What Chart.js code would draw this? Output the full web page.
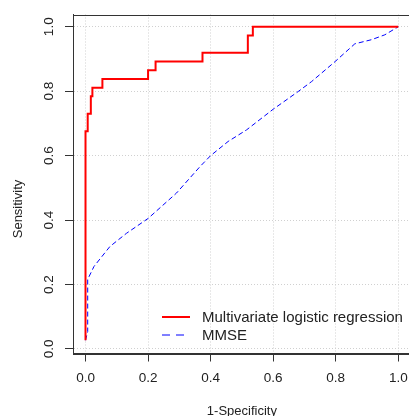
<!DOCTYPE html>
<html>
<head>
<meta charset="utf-8">
<script src="https://cdn.jsdelivr.net/npm/chart.js@4"></script>
<style>
  html, body { margin: 0; padding: 0; background: #fff; overflow: hidden; }
  #roc { display: block; }
</style>
</head>
<body>
<canvas id="roc" width="420" height="430"></canvas>
<script>
// ROC coordinates (1-specificity, sensitivity)
const mlrFpr = [0, 0, 0.007, 0.017, 0.022, 0.054, 0.200, 0.224, 0.374, 0.519, 0.535, 1.0];
const mlrTpr = [0.027, 0.676, 0.730, 0.784, 0.811, 0.838, 0.865, 0.892, 0.919, 0.973, 1.0, 1.0];

const mmseFpr = [0, 0.007, 0.007, 0.027, 0.078, 0.131, 0.200, 0.291, 0.366, 0.400, 0.456, 0.515, 0.600, 0.680, 0.723, 0.798, 0.861, 0.915, 0.957, 1.0];
const mmseTpr = [0.027, 0.054, 0.216, 0.256, 0.318, 0.359, 0.405, 0.484, 0.566, 0.600, 0.644, 0.680, 0.744, 0.799, 0.830, 0.892, 0.947, 0.960, 0.975, 1.0];

const seriesNames = ["Multivariate logistic regression", "MMSE"];

const xTicks = [0, 0.2, 0.4, 0.6, 0.8, 1.0];
const xTickLabels = ["0.0", "0.2", "0.4", "0.6", "0.8", "1.0"];
const yTicks = [0, 0.2, 0.4, 0.6, 0.8, 1.0];
const yTickLabels = ["0.0", "0.2", "0.4", "0.6", "0.8", "1.0"];

const FONT = '"Liberation Sans", Arial, sans-serif';
const INK = "#222";

function toPoints(xs, ys) {
    return xs.map((x, i) => ({ x: x, y: ys[i] }));
}

// box, rotated y labels, y title and the legend, drawn the way base R does
const rStyle = {
    id: "rStyle",
    afterDraw(chart) {
        const ctx = chart.ctx;
        const a = chart.chartArea;
        const y = chart.scales.y;

        ctx.save();
        ctx.strokeStyle = "#333";
        ctx.lineWidth = 1;
        ctx.strokeRect(Math.round(a.left) + 0.5, Math.round(a.top) + 0.5,
            Math.round(a.right - a.left), Math.round(a.bottom - a.top));

        ctx.fillStyle = INK;
        ctx.font = "13.5px " + FONT;
        ctx.textAlign = "center";
        ctx.textBaseline = "middle";
        yTicks.forEach((v, i) => {
            ctx.save();
            ctx.translate(49, y.getPixelForValue(v));
            ctx.rotate(-Math.PI / 2);
            ctx.fillText(yTickLabels[i], 0, 0);
            ctx.restore();
        });

        ctx.font = "13px " + FONT;
        ctx.save();
        ctx.translate(18, 209);
        ctx.rotate(-Math.PI / 2);
        ctx.fillText("Sensitivity", 0, 0);
        ctx.restore();

        // legend
        const lx = 162, tx = 202, rows = [317, 335];
        chart.data.datasets.forEach((ds, i) => {
            ctx.save();
            ctx.strokeStyle = ds.borderColor;
            ctx.lineWidth = ds.borderWidth;
            ctx.setLineDash(i === 0 ? [] : [8, 6]);
            ctx.beginPath();
            ctx.moveTo(lx, rows[i]);
            ctx.lineTo(lx + 28, rows[i]);
            ctx.stroke();
            ctx.restore();
            ctx.fillStyle = INK;
            ctx.font = "15px " + FONT;
            ctx.textAlign = "left";
            ctx.textBaseline = "middle";
            ctx.fillText(ds.label, tx, rows[i] + 0.5);
        });
        ctx.restore();
    }
};

new Chart(document.getElementById("roc"), {
    type: "line",
    data: {
        datasets: [{
            label: seriesNames[0],
            data: toPoints(mlrFpr, mlrTpr),
            borderColor: "#ff0000",
            borderWidth: 2,
            stepped: "before",
            pointRadius: 0,
            fill: false
        }, {
            label: seriesNames[1],
            data: toPoints(mmseFpr, mmseTpr),
            borderColor: "#0000ff",
            borderWidth: 1,
            borderDash: [5, 3],
            pointRadius: 0,
            fill: false,
            tension: 0
        }]
    },
    options: {
        responsive: false,
        animation: false,
        devicePixelRatio: 1,
        layout: { padding: { top: 14.5, right: 9.2, left: 0, bottom: 0 } },
        plugins: { legend: { display: false }, tooltip: { enabled: false } },
        scales: {
            x: {
                type: "linear",
                min: -0.04,
                max: 1.04,
                afterBuildTicks: s => { s.ticks = xTicks.map(v => ({ value: v })); },
                afterFit: s => { s.height = 430 - 353.5; },
                ticks: {
                    padding: 9,
                    color: INK,
                    font: { family: FONT, size: 13.5 },
                    maxRotation: 0,
                    callback: (v, i) => xTickLabels[i]
                },
                grid: { color: "#d0d0d0", tickColor: "#333", tickLength: 8, tickBorderDash: [] },
                border: { color: "#333", dash: [1, 2] },
                title: {
                    display: true,
                    text: "1-Specificity",
                    color: INK,
                    font: { family: FONT, size: 13 },
                    padding: { top: 0, bottom: 11 }
                }
            },
            y: {
                type: "linear",
                min: -0.014,
                max: 1.038,
                afterBuildTicks: s => { s.ticks = yTicks.map(v => ({ value: v })); },
                afterFit: s => { s.width = 73; },
                ticks: { display: false },
                grid: { color: "#d0d0d0", tickColor: "#333", tickLength: 8, tickBorderDash: [] },
                border: { color: "#333", dash: [1, 2] }
            }
        }
    },
    plugins: [rStyle]
});
</script>
</body>
</html>
